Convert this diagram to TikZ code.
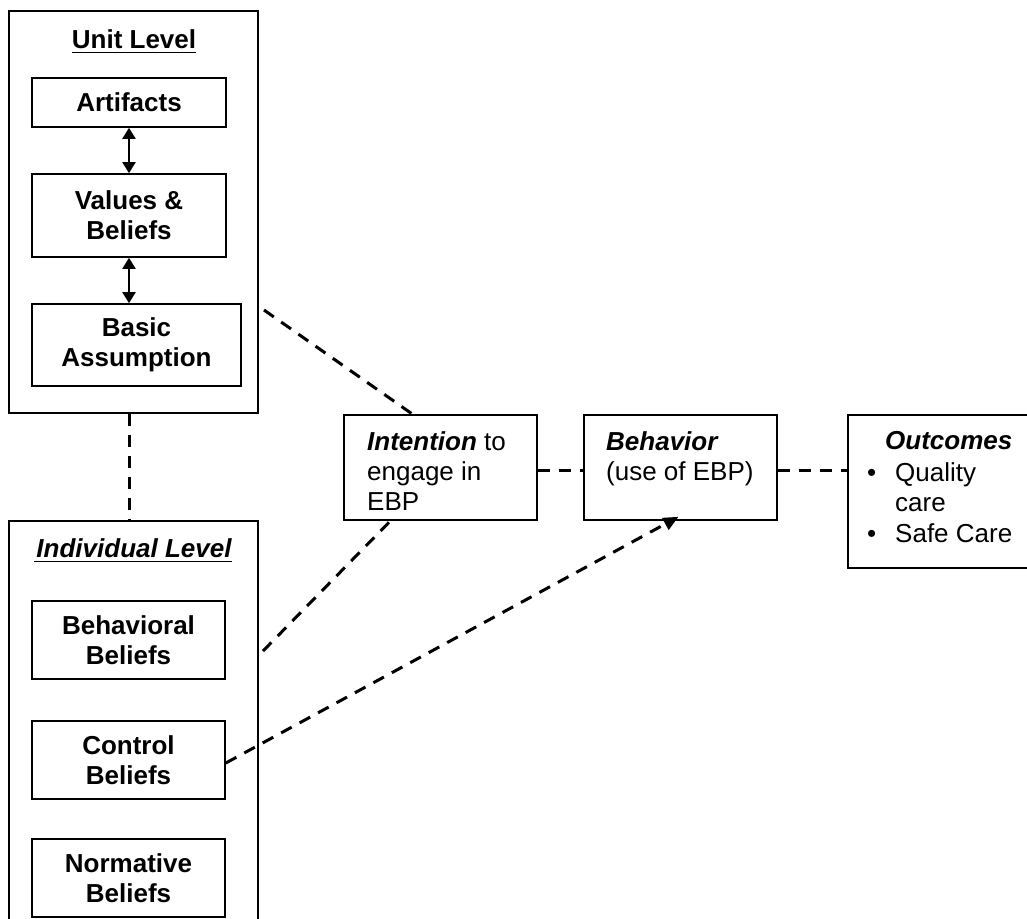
\documentclass[tikz,border=0pt]{standalone}
\usepackage{fontspec}
\setmainfont{Liberation Sans}
\usetikzlibrary{arrows.meta,calc}
\begin{document}
\begin{tikzpicture}[x=1pt,y=-1pt,
  every node/.style={font=\fontsize{26}{30}\selectfont},
  box/.style={draw,line width=1.6pt,inner sep=0pt},
  txt/.style={inner sep=0pt,align=center,font=\fontsize{26}{30}\selectfont\bfseries},
  ltxt/.style={inner sep=0pt,align=left,anchor=north west},
  uline/.style={line width=1.8pt},
  dashline/.style={line width=3pt,dash pattern=on 12pt off 9pt},
  dbl/.style={line width=2pt,{Triangle[width=13pt,length=11pt]}-{Triangle[width=13pt,length=11pt]}}
]
\useasboundingbox (0,0) rectangle (1027,918);
\clip (0,0) rectangle (1027,918);
% outer boxes
\node[box,minimum width=249pt,minimum height=402pt] (unit) at (133.5,212) {};
\node[box,minimum width=249pt,minimum height=404pt] (indiv) at (133.5,723) {};
\node[inner sep=0pt,anchor=base,font=\fontsize{26}{30}\selectfont\bfseries] (unitT) at (134,48) {Unit Level};
\draw[uline] ([yshift=-4.5pt]unitT.base west) -- ([yshift=-4.5pt]unitT.base east);
\node[inner sep=0pt,anchor=base,font=\fontsize{26}{30}\selectfont\bfseries\itshape] (indivT) at (134,557) {Individual Level};
\draw[uline] ([yshift=-4.5pt,xshift=-2pt]indivT.base west) -- ([yshift=-4.5pt]indivT.base east);
% unit-level boxes
\node[box,minimum width=194pt,minimum height=49pt] (art) at (129,102.5) {};
\node[txt] at (art) {Artifacts};
\node[box,minimum width=194pt,minimum height=83pt] (val) at (129,215.5) {};
\node[txt] at (val) {Values \&\\Beliefs};
\node[box,minimum width=209pt,minimum height=82pt] (bas) at (136.5,345) {};
\node[txt] at (bas) {Basic\\Assumption};
% individual-level boxes
\node[box,minimum width=193pt,minimum height=78pt] (bb) at (128.5,640) {};
\node[txt] at (bb) {Behavioral\\Beliefs};
\node[box,minimum width=193pt,minimum height=78pt] (cb) at (128.5,760) {};
\node[txt] at (cb) {Control\\Beliefs};
\node[box,minimum width=193pt,minimum height=78pt] (nb) at (128.5,878) {};
\node[txt] at (nb) {Normative\\Beliefs};
% right boxes
\node[box,minimum width=193pt,minimum height=105pt] (int) at (440.5,467.5) {};
\node[ltxt] at (367,431) {\textbf{\textit{Intention}} to\\engage in\\EBP};
\node[box,minimum width=193pt,minimum height=105pt] (beh) at (680.5,467.5) {};
\node[ltxt] at (606,431) {\textbf{\textit{Behavior}}\\(use of EBP)};
\node[box,minimum width=184pt,minimum height=153pt] (out) at (940,491.5) {};
\node[ltxt] at (885,431) {\textbf{\textit{Outcomes}}};
\node[anchor=base west,inner sep=0pt] at (867,481) {•};
\node[ltxt] at (895,462) {Quality\\care};
\node[anchor=base west,inner sep=0pt] at (867,542) {•};
\node[anchor=base west,inner sep=0pt] at (895,542) {Safe Care};
% connectors
\draw[dbl] (art.south) -- (val.north);
\draw[dbl] (val.south) -- (val.south |- bas.north);
\draw[dashline] ([xshift=-4.5pt]unit.south) -- ([xshift=-4.5pt]unit.south |- indiv.north);
\coordinate (u1) at (264,310);
\draw[dashline] (u1) -- ([xshift=-28pt]int.north);
\coordinate (b1) at (263,651);
\draw[dashline] (b1) -- ([xshift=-50pt]int.south);
\draw[dashline,-{Triangle[width=13pt,length=15pt]}] ([yshift=-3pt]cb.east) -- ([xshift=-2pt,yshift=4pt]beh.south);
\draw[dashline] ([yshift=-3pt]int.east) -- ([yshift=-3pt]int.east -| beh.west);
\draw[dashline] ([yshift=-3pt]beh.east) -- ([yshift=-3pt]beh.east -| out.west);
\end{tikzpicture}
\end{document}
